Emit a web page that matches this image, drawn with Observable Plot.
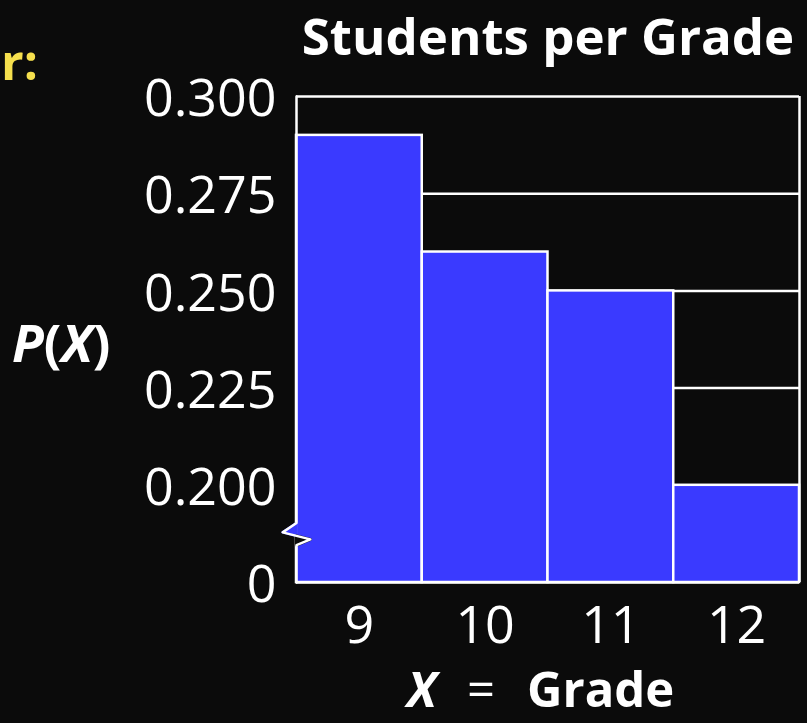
<!DOCTYPE html>
<html>
<head>
<meta charset="utf-8">
<script src="https://cdn.jsdelivr.net/npm/d3@7"></script>
<script src="https://cdn.jsdelivr.net/npm/@observablehq/plot@0.6"></script>
<style>
  html, body { margin: 0; padding: 0; background: #0b0b0b; }
  #chart svg { display: block; }
</style>
</head>
<body>
<div id="chart"></div>
<script>
// Probability distribution of student grade levels
const grades = [9, 10, 11, 12];
const probs = [0.29, 0.26, 0.25, 0.20];

// Broken value axis: the lowest tick stands for 0
const yTicks = [0.175, 0.2, 0.225, 0.25, 0.275, 0.3];
const yTickLabels = ["0", "0.200", "0.225", "0.250", "0.275", "0.300"];
const xTicks = [9, 10, 11, 12];
const xTickLabels = ["9", "10", "11", "12"];

const data = grades.map((g, i) => ({grade: g, p: probs[i]}));
const yLabelOf = new Map(yTicks.map((t, i) => [t, yTickLabels[i]]));
const xLabelOf = new Map(xTicks.map((t, i) => [t, xTickLabels[i]]));

const BLUE = "#3a3aff";
const BG = "#0b0b0b";
const FONT = "'Open Sans', 'DejaVu Sans', sans-serif";

const xLo = grades[0] - 0.5, xHi = grades[grades.length - 1] + 0.5;
const yLo = yTicks[0], yHi = yTicks[yTicks.length - 1];

// Zigzag break drawn on the left edge of the frame
const brk = [
  {x: xLo, y: 0.1903},
  {x: xLo - 0.11, y: 0.1879},
  {x: xLo + 0.11, y: 0.1861},
  {x: xLo, y: 0.1846}
];
const leftEdge = [{x: xLo, y: yHi}, ...brk, {x: xLo, y: yLo}];
const brkFillIn = [brk[0], brk[1], {x: xLo, y: 0.1870}];
const brkFillOut = [{x: xLo, y: 0.1870}, brk[2], brk[3]];
const gridLines = yTicks.slice(1).map(y => ({y}));

const chart = Plot.plot({
  width: 807,
  height: 723,
  marginLeft: 296,
  marginRight: 8,
  marginTop: 96,
  marginBottom: 141,
  style: {background: BG, color: "white", fontFamily: FONT},
  x: {domain: [xLo, xHi]},
  y: {domain: [yLo, yHi], clamp: true},
  marks: [
    // horizontal gridlines behind the bars
    Plot.ruleY(gridLines, {y: "y", x1: () => xLo, x2: () => xHi, stroke: "white", strokeWidth: 2.5}),
    // bars
    Plot.rectY(data, {
      x1: d => d.grade - 0.5,
      x2: d => d.grade + 0.5,
      y1: () => 0,
      y2: "p",
      fill: BLUE,
      stroke: "white",
      strokeWidth: 2.5
    }),
    // frame: bottom and right
    Plot.ruleY([yLo], {y: d => d, x1: () => xLo, x2: () => xHi, stroke: "white", strokeWidth: 2.5}),
    Plot.ruleX([xHi], {x: d => d, y1: () => yLo, y2: () => yHi, stroke: "white", strokeWidth: 2.5}),
    // break notch
    Plot.line(brkFillIn, {x: "x", y: "y", fill: BLUE, stroke: BLUE, strokeWidth: 2.5, curve: "linear-closed"}),
    Plot.line(brkFillOut, {x: "x", y: "y", fill: BG, stroke: BG, strokeWidth: 3, curve: "linear-closed"}),
    Plot.line(leftEdge, {x: "x", y: "y", stroke: "white", strokeWidth: 2.5}),
    // axes
    Plot.axisY(yTicks, {
      tickFormat: d => yLabelOf.get(d),
      tickSize: 0,
      tickPadding: 20,
      fontSize: 52,
      dy: 3,
      label: null
    }),
    Plot.axisX(xTicks, {
      tickFormat: d => xLabelOf.get(d),
      tickSize: 0,
      tickPadding: 24,
      fontSize: 52,
      label: null
    }),
    // title
    Plot.text(["Students per Grade"], {
      frameAnchor: "top",
      dy: -78,
      fontSize: 51,
      fontWeight: "bold",
      fill: "white"
    })
  ]
});

document.getElementById("chart").appendChild(chart);

// Axis names with mixed italic/upright runs
const svg = d3.select(chart);

const py = svg.append("text")
  .attr("x", 12).attr("y", 362)
  .attr("text-anchor", "start")
  .attr("fill", "white")
  .style("font-family", FONT)
  .style("font-size", "52px")
  .style("font-weight", "bold");
py.append("tspan").style("font-style", "italic").text("P");
py.append("tspan").text("(");
py.append("tspan").style("font-style", "italic").text("X");
py.append("tspan").text(")");

const xName = [
  {text: "X", x: 407, style: "italic", weight: "bold"},
  {text: "=", x: 467, style: "normal", weight: "normal"},
  {text: "Grade", x: 527, style: "normal", weight: "bold"}
];
svg.selectAll("text.xname").data(xName).join("text")
  .attr("class", "xname")
  .attr("x", d => d.x).attr("y", 707)
  .attr("text-anchor", "start")
  .attr("fill", "white")
  .style("font-family", FONT)
  .style("font-size", "49px")
  .style("font-style", d => d.style)
  .style("font-weight", d => d.weight)
  .text(d => d.text);

// Fragment of the heading on the left
svg.append("text")
  .attr("x", 38).attr("y", 80)
  .attr("text-anchor", "end")
  .attr("fill", "#f5df4d")
  .style("font-family", FONT)
  .style("font-size", "50px")
  .style("font-weight", "bold")
  .text("r:");
</script>
</body>
</html>
